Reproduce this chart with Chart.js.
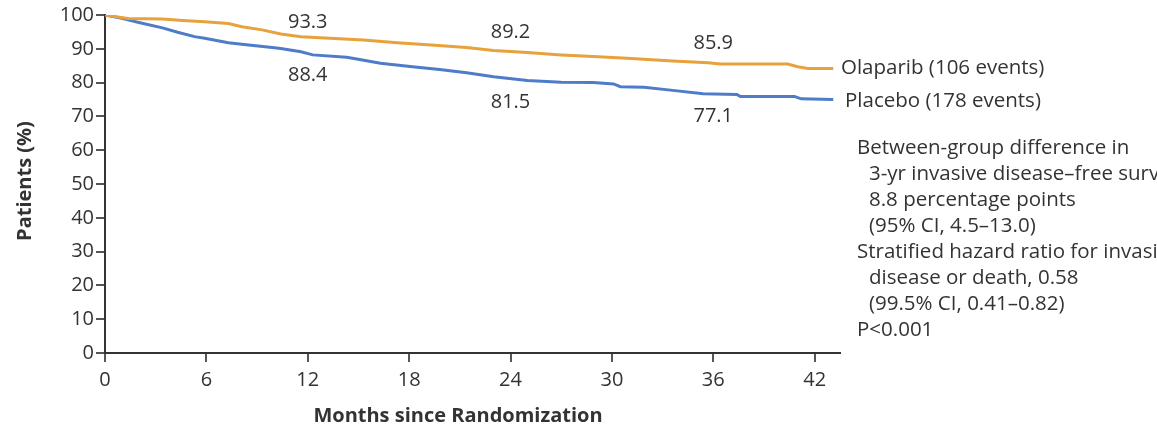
<!DOCTYPE html>
<html><head><meta charset="utf-8">
<script src="https://cdn.jsdelivr.net/npm/chart.js@4/dist/chart.umd.min.js"></script>
<style>html,body{margin:0;padding:0;background:#fff;}#wrap{width:1157px;height:433px;}</style>
</head><body><div id="wrap"><canvas id="c" width="1157" height="433"></canvas></div>
<script>
const olaparibMonths = [0,0.5,1.36,3.4,4.6,5.9,7.3,8.1,9.3,10.4,11.6,13.3,15.3,17.3,19.3,21.4,23.0,25.0,27.0,28.9,30.9,33.6,35.7,36.4,40.4,41.0,41.6,43.1];
const olaparibValues = [100,99.6,99.0,98.8,98.4,98.0,97.5,96.5,95.6,94.4,93.6,93.1,92.6,91.8,91.1,90.4,89.5,88.9,88.2,87.7,87.2,86.4,85.9,85.5,85.5,84.7,84.2,84.2];
const placeboMonths = [0,1.0,2.0,3.4,4.3,5.3,5.9,7.3,8.5,9.9,10.4,11.6,12.3,14.3,14.9,16.3,18.2,19.8,21.4,23.0,25.0,27.0,28.9,30.1,30.5,31.9,33.6,35.4,37.4,37.6,40.8,41.2,43.1];
const placeboValues = [100,99,97.8,96.2,94.9,93.6,93.1,91.8,91.1,90.4,90.1,89.1,88.2,87.5,87.0,85.7,84.7,83.9,82.9,81.7,80.6,80.1,80.0,79.6,78.8,78.6,77.7,76.7,76.5,75.9,75.9,75.2,75.0];
const xTicks = [0,6,12,18,24,30,36,42];
const yTicks = [0,10,20,30,40,50,60,70,80,90,100];
const labelMonths = [12,24,36];
const olaparibLabels = ["93.3","89.2","85.9"];
const placeboLabels = ["88.4","81.5","77.1"];
const seriesNames = ["Olaparib (106 events)","Placebo (178 events)"];
const statsLines = [
 ["Between-group difference in",0],
 ["3-yr invasive disease\u2013free survival,",1],
 ["8.8 percentage points",1],
 ["(95% CI, 4.5\u201313.0)",1],
 ["Stratified hazard ratio for invasive",0],
 ["disease or death, 0.58",1],
 ["(99.5% CI, 0.41\u20130.82)",1],
 ["P<0.001",0]
];
const xTitle = "Months since Randomization";
const yTitle = "Patients (%)";

const ORANGE = '#E8A23C', BLUE = '#4E7CC8', TXT = '#333333', FONT = "'Open Sans', 'Noto Sans', sans-serif";
const olaLabelY = [22, 32, 43];
const plaLabelY = [75, 102, 116];

const textPlugin = {
  id: 'texts',
  afterDraw(chart) {
    const ctx = chart.ctx, xs = chart.scales.x, ys = chart.scales.y, ca = chart.chartArea;
    ctx.save();
    ctx.fillStyle = TXT;
    ctx.font = "20px " + FONT;
    ctx.textAlign = 'center'; ctx.textBaseline = 'middle';
    labelMonths.forEach((m, i) => {
      const x = xs.getPixelForValue(m);
      ctx.fillText(olaparibLabels[i], x, olaLabelY[i]);
      ctx.fillText(placeboLabels[i], x, plaLabelY[i]);
    });
    ctx.textAlign = 'left';
    ctx.font = "20.5px " + FONT;
    const lastO = olaparibValues[olaparibValues.length - 1], lastP = placeboValues[placeboValues.length - 1];
    ctx.fillText(seriesNames[0], ca.right + 1, ys.getPixelForValue(lastO) + 0);
    ctx.fillText(seriesNames[1], ca.right + 5, ys.getPixelForValue(lastP) + 2);
    statsLines.forEach((l, i) => {
      ctx.fillText(l[0], 857 + l[1] * 12, 148 + i * 26);
    });
    ctx.font = "bold 20px " + FONT;
    ctx.textAlign = 'center';
    ctx.fillText(xTitle, 458, 416);
    ctx.translate(25, 181); ctx.rotate(-Math.PI / 2);
    ctx.fillText(yTitle, 0, 0);
    ctx.restore();
  }
};

const toPts = (ms, vs) => ms.map((m, i) => ({x: m, y: vs[i]}));

new Chart(document.getElementById('c'), {
  type: 'line',
  data: {
    datasets: [
      {label: seriesNames[0], data: toPts(olaparibMonths, olaparibValues), borderColor: ORANGE, borderWidth: 3, pointRadius: 0, tension: 0, fill: false},
      {label: seriesNames[1], data: toPts(placeboMonths, placeboValues), borderColor: BLUE, borderWidth: 3, pointRadius: 0, tension: 0, fill: false}
    ]
  },
  options: {
    responsive: false, animation: false, devicePixelRatio: 1,
    layout: {padding: {top: 15, right: 317, bottom: 0, left: 0}},
    plugins: {legend: {display: false}, tooltip: {enabled: false}},
    scales: {
      x: {
        type: 'linear', min: 0, max: 43.5,
        afterBuildTicks: s => { s.ticks = xTicks.map(v => ({value: v})); },
        afterFit: s => { s.height = 80; },
        ticks: {color: TXT, font: {size: 20, family: FONT}, padding: 6, maxRotation: 0, autoSkip: false},
        grid: {drawOnChartArea: false, drawTicks: true, tickLength: 9, color: '#555', lineWidth: 2},
        border: {color: '#333', width: 2}
      },
      y: {
        min: 0, max: 100,
        afterBuildTicks: s => { s.ticks = yTicks.map(v => ({value: v})); },
        afterFit: s => { s.width = 105; },
        ticks: {color: TXT, font: {size: 20, family: FONT}, padding: 2, autoSkip: false},
        grid: {drawOnChartArea: false, drawTicks: true, tickLength: 9, color: '#555', lineWidth: 2},
        border: {color: '#333', width: 2}
      }
    }
  },
  plugins: [textPlugin]
});
</script></body></html>
